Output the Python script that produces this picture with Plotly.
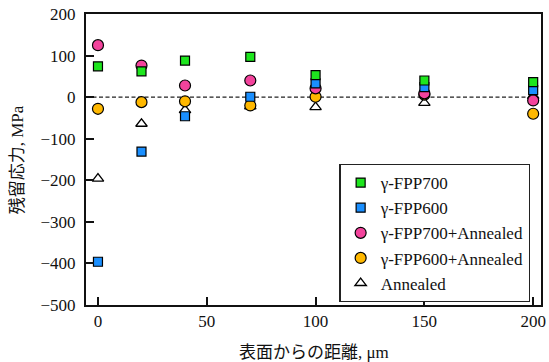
import plotly.graph_objects as go

# Distance from the surface (µm) and residual stress (MPa) per condition
depth = [0, 20, 40, 70, 100, 150, 200]
fpp700 = [74, 62, 88, 97, 53, 40, 36]
fpp600 = [-396, -131, -46, 1, 33, 24, 17]
fpp700_annealed = [125, 76, 28, 40, 21, 9, -8]
fpp600_annealed = [-28, -12, -10, -20, 1, 6, -40]
annealed = [-196, -64, -31, -22, -24, -14, 3]

serif = "Liberation Serif"
mixed = "Liberation Serif, Noto Sans CJK JP"

# Series drawn back to front; legendrank keeps the legend order fixed
series = [
    ("Annealed", annealed, "triangle-up-open", "black", 10, 5),
    ("γ-FPP600+Annealed", fpp600_annealed, "circle", "#ffb800", 11, 4),
    ("γ-FPP700+Annealed", fpp700_annealed, "circle", "#f3439c", 11, 3),
    ("γ-FPP600", fpp600, "square", "#1a8fff", 9, 2),
    ("γ-FPP700", fpp700, "square", "#1ee61e", 9, 1),
]

fig = go.Figure()
for name, vals, sym, col, size, rank in series:
    if sym.endswith("open"):
        marker = dict(symbol=sym, size=size, color="black", line=dict(width=1.3, color="black"))
    else:
        marker = dict(symbol=sym, size=size, color=col, line=dict(width=1.2, color="black"))
    fig.add_trace(go.Scatter(x=depth, y=vals, mode="markers", name=name,
                             marker=marker, legendrank=rank))

# Zero reference line
fig.add_shape(type="line", xref="paper", yref="y", x0=0, x1=1, y0=0, y1=0,
              line=dict(color="#222", width=1.3, dash="4px,2.5px"), layer="below")

fig.update_layout(
    width=549, height=362,
    margin=dict(l=86, r=3, t=14, b=57),
    paper_bgcolor="white", plot_bgcolor="white",
    font=dict(family=serif, size=17, color="#111"),
    showlegend=True,
    legend=dict(x=0.557, y=0.485, xanchor="left", yanchor="top",
                bgcolor="white", bordercolor="#222", borderwidth=1.2,
                font=dict(family=serif, size=17, color="#111"),
                tracegroupgap=0, itemwidth=30),
    xaxis=dict(range=[-5.5, 203.6], tickvals=[0, 50, 100, 150, 200],
               ticks="inside", ticklen=8, tickwidth=1.5, tickcolor="#111",
               showline=True, linewidth=2, linecolor="#111", mirror=True,
               showgrid=False, zeroline=False,
               tickfont=dict(family=serif, size=17, color="#111")),
    yaxis=dict(range=[-500, 200], tickvals=[-500, -400, -300, -200, -100, 0, 100, 200],
               ticks="inside", ticklen=8, tickwidth=1.5, tickcolor="#111",
               showline=True, linewidth=2, linecolor="#111", mirror=True,
               showgrid=False, zeroline=False, ticklabelstandoff=5,
               tickfont=dict(family=serif, size=17, color="#111")),
    annotations=[
        dict(text="表面からの距離, μm", xref="paper", yref="paper", x=0.5, y=-0.162,
             xanchor="center", yanchor="middle", showarrow=False,
             font=dict(family=mixed, size=17, color="#111")),
        dict(text="残留応力, MPa", xref="paper", yref="paper", x=-0.15, y=0.5,
             xanchor="center", yanchor="middle", showarrow=False, textangle=-90,
             font=dict(family=mixed, size=17, color="#111")),
    ],
)

fig.write_html("out.html")
